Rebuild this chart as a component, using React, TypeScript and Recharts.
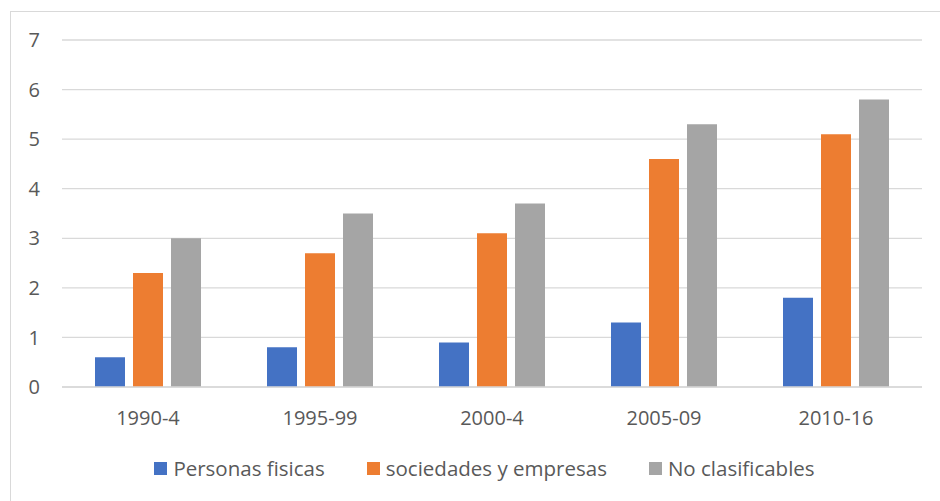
import React from 'react';
import { BarChart, Bar, XAxis, YAxis, CartesianGrid, Legend } from 'recharts';

const periods = ['1990-4', '1995-99', '2000-4', '2005-09', '2010-16'];
const personasFisicas = [0.6, 0.8, 0.9, 1.3, 1.8];
const sociedades = [2.3, 2.7, 3.1, 4.6, 5.1];
const noClasificables = [3.0, 3.5, 3.7, 5.3, 5.8];
const yTicks = [0, 1, 2, 3, 4, 5, 6, 7];

const seriesInfo = [
  { key: 'pf', name: 'Personas fisicas', color: '#4472C4' },
  { key: 'se', name: 'sociedades y empresas', color: '#ED7D31' },
  { key: 'nc', name: 'No clasificables', color: '#A5A5A5' },
];

const data = periods.map((p, i) => ({
  period: p,
  pf: personasFisicas[i],
  se: sociedades[i],
  nc: noClasificables[i],
}));

const FONT = '"Open Sans", sans-serif';
const TEXT = '#595959';

function LegendContent() {
  return (
    <div style={{ display: 'flex', justifyContent: 'center', alignItems: 'center', paddingLeft: 47, fontFamily: FONT, fontSize: 20.5, color: TEXT }}>
      {seriesInfo.map((s, i) => (
        <div key={s.key} style={{ display: 'flex', alignItems: 'center', marginLeft: i === 0 ? 0 : 42 }}>
          <span style={{ width: 13, height: 13, background: s.color, display: 'inline-block', marginRight: 6 }} />
          <span>{s.name}</span>
        </div>
      ))}
    </div>
  );
}

export default function App() {
  return (
    <div style={{ position: 'relative', width: 940, height: 501, overflow: 'hidden', background: '#fff' }}>
      <style>{'body{margin:0}'}</style>
      <div style={{ position: 'absolute', left: 10, top: 11, width: 960, height: 520, border: '1px solid #D9D9D9' }} />
      <div style={{ position: 'absolute', left: 0, top: 0 }}>
        <BarChart
          width={940}
          height={501}
          data={data}
          margin={{ top: 40, right: 18, left: 0, bottom: 17 }}
          barCategoryGap={33}
          barGap={8}
        >
          <CartesianGrid vertical={false} stroke="#D9D9D9" strokeWidth={1.3} />
          <XAxis
            dataKey="period"
            axisLine={{ stroke: '#D9D9D9', strokeWidth: 1.3 }}
            tickLine={false}
            height={67}
            tickMargin={18}
            tick={{ fill: TEXT, fontSize: 20, fontFamily: FONT }}
          />
          <YAxis
            domain={[0, 7]}
            ticks={yTicks}
            width={62}
            axisLine={false}
            tickLine={false}
            tickMargin={16}
            tick={{ fill: TEXT, fontSize: 20, fontFamily: FONT }}
          />
          <Legend verticalAlign="bottom" height={30} content={<LegendContent />} />
          {seriesInfo.map((s) => (
            <Bar key={s.key} dataKey={s.key} name={s.name} fill={s.color} isAnimationActive={false} />
          ))}
        </BarChart>
      </div>
    </div>
  );
}
